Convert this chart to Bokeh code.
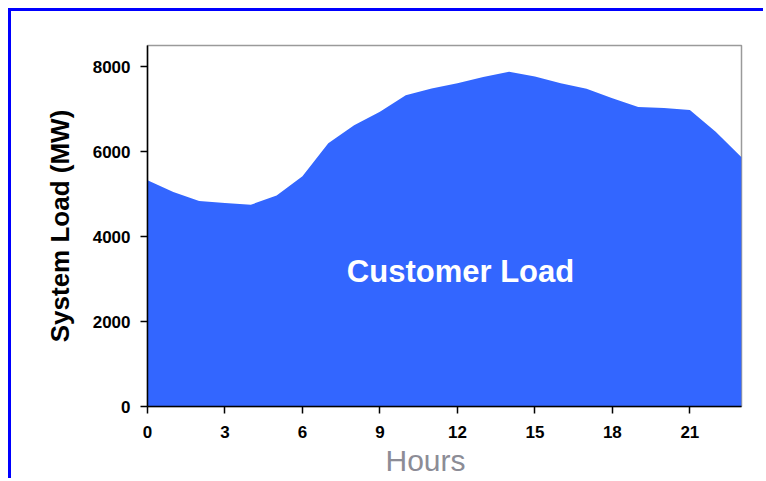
from bokeh.plotting import figure
from bokeh.models import ColumnDataSource, FixedTicker, Label, Range1d, Title
from bokeh.embed import file_html
from bokeh.resources import INLINE

# --- data ---
hours = list(range(24))
load_mw = [5330, 5050, 4840, 4790, 4750, 4970, 5420, 6200, 6620, 6940, 7330, 7490,
           7610, 7760, 7880, 7770, 7610, 7480, 7260, 7050, 7030, 6980, 6470, 5870]
x_ticks = [0, 3, 6, 9, 12, 15, 18, 21]
y_ticks = [0, 2000, 4000, 6000, 8000]
area_label = "Customer Load"
x_title = "Hours"
y_title = "System Load (MW)"

FONT = "Liberation Sans"

src = ColumnDataSource(dict(hours=hours, load=load_mw, base=[0] * len(hours)))

p = figure(width=755, height=470, output_backend="svg", toolbar_location=None,
           x_range=Range1d(0, 23), y_range=Range1d(0, 8500),
           min_border_left=136, min_border_right=25, min_border_top=34, min_border_bottom=75)
p.styles = {"border-top": "3px solid #0000ff", "border-left": "3px solid #0000ff",
            "margin-left": "8px", "margin-top": "8px"}

p.varea(x="hours", y1="base", y2="load", source=src, fill_color="#3366ff", fill_alpha=1.0)

p.xgrid.visible = False
p.ygrid.visible = False
p.outline_line_color = "#9a9a9a"
p.outline_line_width = 1.5
p.background_fill_color = "white"
p.border_fill_color = "white"

for ax in (p.xaxis[0], p.yaxis[0]):
    ax.axis_line_color = "black"
    ax.axis_line_width = 1.5
    ax.major_tick_line_color = "black"
    ax.major_tick_line_width = 1.5
    ax.major_tick_in = 0
    ax.major_tick_out = 7
    ax.minor_tick_line_color = None
    ax.major_label_text_font = FONT
    ax.major_label_text_font_style = "bold"
    ax.major_label_text_font_size = "17px"
    ax.major_label_text_color = "black"

p.xaxis.ticker = FixedTicker(ticks=x_ticks)
p.yaxis.ticker = FixedTicker(ticks=y_ticks)
p.xaxis.major_label_standoff = 12
p.yaxis.major_label_standoff = 10

p.yaxis.axis_label = y_title
p.yaxis.axis_label_text_font = FONT
p.yaxis.axis_label_text_font_style = "bold"
p.yaxis.axis_label_text_font_size = "26px"
p.yaxis.axis_label_text_color = "black"
p.yaxis.axis_label_standoff = 15

p.add_layout(Label(x=12.12, y=3170, text=area_label, text_align="center",
                   text_baseline="alphabetic", text_font=FONT, text_font_style="bold",
                   text_font_size="31px", text_color="white"))

p.add_layout(Title(text=x_title, align="left", offset=238, standoff=3,
                   text_font=FONT, text_font_style="normal", text_font_size="30px",
                   text_color="#8c8c96"), "below")

open("out.html", "w").write(file_html(p, INLINE))
